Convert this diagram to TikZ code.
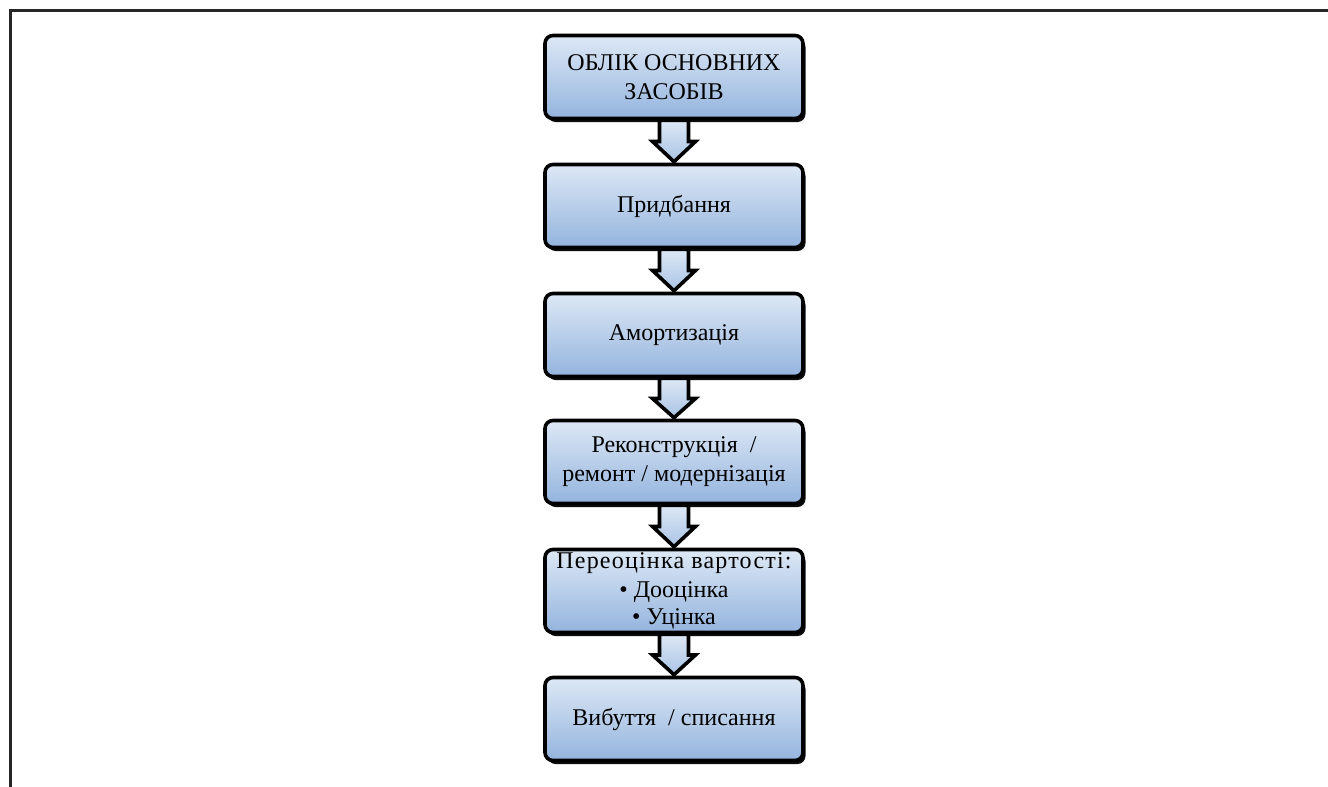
\documentclass[tikz,border=0pt]{standalone}
\usepackage{fontspec}
\setmainfont{Liberation Serif}
\usetikzlibrary{calc,shadows}
\definecolor{boxtop}{HTML}{DDE8F5}
\definecolor{boxbot}{HTML}{94B4DE}
\tikzset{
  x=1pt, y=-1pt,
  stepbox/.style={draw=black, line width=3.6pt, rounded corners=8pt,
    top color=boxtop, bottom color=boxbot,
    minimum width=258pt, minimum height=83pt, align=center,
    font=\fontsize{24}{29}\selectfont, inner sep=1pt,
    drop shadow={shadow xshift=2.5pt, shadow yshift=-3.5pt, opacity=0.95, fill=black}},
  flowarrow/.style={draw=black, line width=3.6pt, line join=miter,
    top color=boxtop, bottom color=boxbot!70!boxtop},
  frameline/.style={draw=black!85, line width=3pt}
}
\begin{document}
\begin{tikzpicture}
\useasboundingbox (0,0) rectangle (1328,787);
\fill[white] (0,0) rectangle (1328,787);
\coordinate (fa) at (10,787);
\coordinate (fb) at (10,10);
\coordinate (fc) at (1328,10);
\draw[frameline] (fa) -- (fb) -- (fc);

\node[stepbox] (b1) at (674,77) {ОБЛІК ОСНОВНИХ\\ЗАСОБІВ};
\node[stepbox] (b2) at (674,206) {\raisebox{-2pt}{Придбання}};
\node[stepbox] (b3) at (674,335) {Амортизація};
\node[stepbox] (b4) at (674,462) {Реконструкція~~/\\ремонт / модернізація};
\node[stepbox, font=\fontsize{24}{27.5}\selectfont] (b5) at (674,591) {{\addfontfeature{LetterSpace=5}Переоцінка вартості:}\\[1.5pt]\textbullet{} Дооцінка\\\textbullet{} Уцінка};
\node[stepbox] (b6) at (674,719) {Вибуття~~/ списання};

\foreach \a/\b in {b1/b2,b2/b3,b3/b4,b4/b5,b5/b6}{
  \draw[flowarrow]
    ($(\a.south)+(-14.5,0)$) -- ($(\a.south)+(14.5,0)$)
    -- ($(\a.south)!0.5!(\b.north)+(14.5,0)$) -- ($(\a.south)!0.5!(\b.north)+(21.5,0)$)
    -- ($(\b.north)+(0,-1)$)
    -- ($(\a.south)!0.5!(\b.north)+(-21.5,0)$) -- ($(\a.south)!0.5!(\b.north)+(-14.5,0)$)
    -- cycle;
}
\end{tikzpicture}
\end{document}
